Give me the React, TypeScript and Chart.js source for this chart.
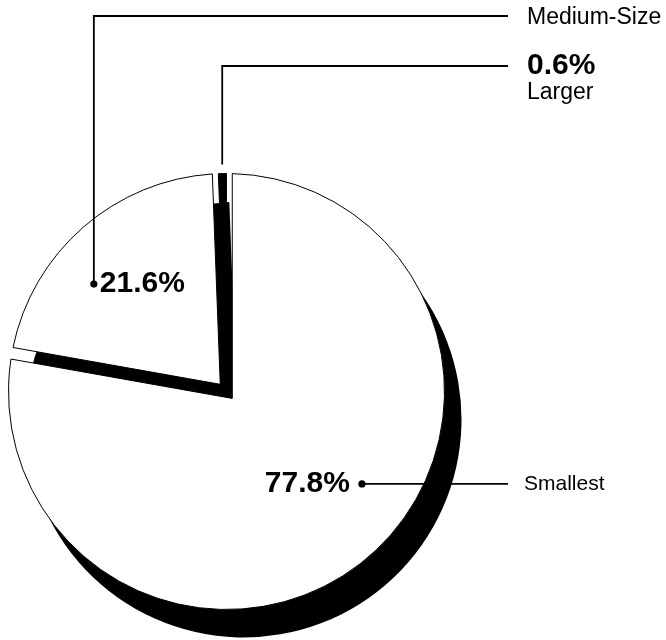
import React, { useEffect, useRef } from "react";
import { Chart, registerables } from "chart.js";

Chart.register(...registerables);

// ---- data ----
const categories = ["Smallest", "Medium-Size", "Larger"];
const shares = [77.8, 21.6, 0.6];
const valueLabels = ["77.8%", "21.6%", "0.6%"];

// ---- styles ----
const sliceFill = ["#ffffff", "#ffffff", "#000000"];
const explodePx = [9, 9.5, 3];
const SHADOW_DX = 17;
const SHADOW_DY = 28;
const FONT = "'Liberation Sans', Arial, Helvetica, sans-serif";
const VALUE_FONT = `bold 30px ${FONT}`;
const NAME_FONT = `23px ${FONT}`;
const SMALL_NAME_FONT = `21px ${FONT}`;
const NAME_X = 527;
const LINE_END_X = 508;

function rayCircle(px: number, py: number, ang: number, cx: number, cy: number, R: number) {
  const ux = Math.cos(ang);
  const uy = Math.sin(ang);
  const wx = px - cx;
  const wy = py - cy;
  const b = wx * ux + wy * uy;
  const c = wx * wx + wy * wy - R * R;
  const t = -b + Math.sqrt(Math.max(0, b * b - c));
  return [px + t * ux, py + t * uy];
}

function wedgePath(
  ctx: CanvasRenderingContext2D,
  cx: number,
  cy: number,
  R: number,
  a0: number,
  a1: number,
  d: number,
  ox: number,
  oy: number
) {
  const m = (a0 + a1) / 2;
  const px = cx + d * Math.cos(m);
  const py = cy + d * Math.sin(m);
  const q0 = rayCircle(px, py, a0, cx, cy, R);
  const q1 = rayCircle(px, py, a1, cx, cy, R);
  const b0 = Math.atan2(q0[1] - cy, q0[0] - cx);
  const b1 = Math.atan2(q1[1] - cy, q1[0] - cx);
  ctx.beginPath();
  ctx.moveTo(px + ox, py + oy);
  ctx.lineTo(q0[0] + ox, q0[1] + oy);
  ctx.arc(cx + ox, cy + oy, R, b0, b1, false);
  ctx.closePath();
}

const shadowPiePlugin = {
  id: "shadowPie",
  beforeDatasetsDraw(chart: any) {
    const ctx: CanvasRenderingContext2D = chart.ctx;
    const meta = chart.getDatasetMeta(0);
    const els = meta.data;
    // draw smaller slices first, the largest last
    const order = els.map((_: any, i: number) => i).sort((a: number, b: number) => shares[a] - shares[b]);
    ctx.save();
    for (const i of order) {
      const el = els[i];
      const { x, y, startAngle, endAngle, outerRadius } = el.getProps(
        ["x", "y", "startAngle", "endAngle", "outerRadius"],
        true
      );
      const d = explodePx[i];
      // shadow
      wedgePath(ctx, x, y, outerRadius, startAngle, endAngle, d, SHADOW_DX, SHADOW_DY);
      ctx.fillStyle = "#000";
      ctx.fill();
      // face
      wedgePath(ctx, x, y, outerRadius, startAngle, endAngle, d, 0, 0);
      ctx.fillStyle = el.options.backgroundColor;
      ctx.fill();
      ctx.lineWidth = 1;
      ctx.strokeStyle = "#000";
      ctx.lineJoin = "miter";
      ctx.stroke();
    }
    ctx.restore();
    return false;
  },
  afterDraw(chart: any) {
    const ctx: CanvasRenderingContext2D = chart.ctx;
    const els = chart.getDatasetMeta(0).data;
    const geo = els.map((el: any) =>
      el.getProps(["x", "y", "startAngle", "endAngle", "outerRadius"], true)
    );
    const cx = geo[0].x;
    const cy = geo[0].y;
    const R = geo[0].outerRadius;
    const deg = Math.PI / 180;
    ctx.save();
    ctx.strokeStyle = "#000";
    ctx.fillStyle = "#000";
    ctx.lineWidth = 1.8;
    const dot = (px: number, py: number) => {
      ctx.beginPath();
      ctx.arc(px, py, 3.6, 0, Math.PI * 2);
      ctx.fill();
    };
    const line = (pts: number[][]) => {
      ctx.beginPath();
      ctx.moveTo(pts[0][0], pts[0][1]);
      for (let k = 1; k < pts.length; k++) ctx.lineTo(pts[k][0], pts[k][1]);
      ctx.stroke();
    };
    const text = (s: string, font: string, tx: number, ty: number, align: CanvasTextAlign) => {
      ctx.font = font;
      ctx.textAlign = align;
      ctx.textBaseline = "middle";
      ctx.fillText(s, tx, ty);
    };

    // Smallest (index 0)
    {
      const a = 34.3 * deg;
      const r = 0.752 * R;
      const ax = cx + r * Math.cos(a);
      const ay = cy + r * Math.sin(a);
      line([[ax, ay], [LINE_END_X, ay]]);
      dot(ax, ay);
      text(valueLabels[0], VALUE_FONT, ax - 12, ay, "right");
      text(categories[0], SMALL_NAME_FONT, NAME_X - 3, ay, "left");
    }
    // Medium-Size (index 1)
    {
      const a = 219 * deg;
      const r = 0.783 * R;
      const ax = cx + r * Math.cos(a);
      const ay = cy + r * Math.sin(a);
      const topY = 16;
      line([[ax, ay], [ax, topY], [LINE_END_X, topY]]);
      dot(ax, ay);
      text(valueLabels[1], VALUE_FONT, ax + 6, ay, "left");
      text(categories[1], NAME_FONT, NAME_X, topY + 2, "left");
    }
    // Larger (index 2)
    {
      const g = geo[2];
      const m = (g.startAngle + g.endAngle) / 2;
      const ex = cx + (R + 9) * Math.cos(m);
      const ey = cy + (R + 9) * Math.sin(m);
      const topY = 66;
      line([[ex, ey], [ex, topY], [LINE_END_X, topY]]);
      text(valueLabels[2], VALUE_FONT, NAME_X, topY, "left");
      text(categories[2], NAME_FONT, NAME_X, topY + 27, "left");
    }
    ctx.restore();
  },
};

export default function App() {
  const canvasRef = useRef<HTMLCanvasElement | null>(null);

  useEffect(() => {
    const canvas = canvasRef.current;
    if (!canvas) return;
    const chart = new Chart(canvas, {
      type: "pie",
      data: {
        labels: categories,
        datasets: [
          {
            data: shares,
            backgroundColor: sliceFill,
            borderColor: "#000",
            borderWidth: 0,
            hoverBorderWidth: 0,
            offset: 0,
            hoverOffset: 0,
          } as any,
        ],
      },
      options: {
        animation: false,
        responsive: false,
        maintainAspectRatio: false,
        devicePixelRatio: 1,
        events: [],
        layout: {
          padding: { left: 8.5, right: 221.5, top: 173.5, bottom: 30.5 },
        },
        plugins: {
          legend: { display: false },
          tooltip: { enabled: false },
        },
      } as any,
      plugins: [shadowPiePlugin],
    });
    return () => chart.destroy();
  }, []);

  return (
    <div style={{ position: "absolute", left: 0, top: 0, width: 666, height: 640, background: "#fff" }}>
      <canvas ref={canvasRef} width={666} height={640} style={{ display: "block" }} />
    </div>
  );
}
